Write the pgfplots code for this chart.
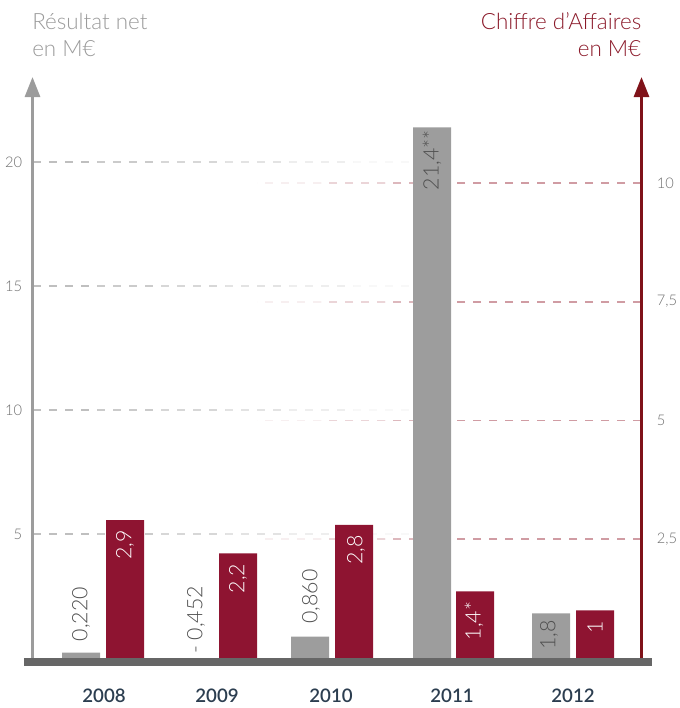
\documentclass[border=0pt]{standalone}
\usepackage{fontspec}
\setmainfont{Lato}
\IfFontExistsTF{Lato Light}{\newfontfamily\lite{Lato Light}}{\newfontfamily\lite{Lato}}
\IfFontExistsTF{Lato Semibold}{\newfontfamily\semi{Lato Semibold}}{\newfontfamily\semi{Lato}[UprightFont=* Bold]}
\usepackage{pgfplots}
\pgfplotsset{compat=1.18}
\usetikzlibrary{arrows.meta}

\definecolor{barGrey}{HTML}{9D9D9D}
\definecolor{barRed}{HTML}{8E1431}
\definecolor{axisGrey}{HTML}{9C9C9C}
\definecolor{axisRed}{HTML}{7F1219}
\definecolor{baseC}{HTML}{666666}
\definecolor{gridGrey}{HTML}{BCBCBC}
\definecolor{gridRed}{HTML}{D09CA3}
\definecolor{titleGrey}{HTML}{9A9A9A}
\definecolor{titleRed}{HTML}{8B1A2A}
\definecolor{tickC}{HTML}{6E6E6E}
\definecolor{yearC}{HTML}{2C3E50}
\definecolor{lblGrey}{HTML}{505050}

\pgfplotsset{
  base/.style={
    width=456.75pt, height=435.75pt, scale only axis,
    at={(0,0)}, anchor=south west,
    xmin=32.5, xmax=641.5, ymin=0,
    axis line style={draw=none},
    major tick length=0pt,
    /pgf/number format/assume math mode=true,
  },
}
\tikzset{
  lbl/.style={rotate=90, inner sep=0pt, font=\lite\fontsize{16}{16}\selectfont},
  gseg/.style={gridGrey, line width=1.4pt, dash pattern=on 6pt off 6pt},
  rseg/.style={gridRed, line width=1.4pt, dash pattern=on 6pt off 6pt},
}
% x runs in picture pixels (1px = 0.75pt); grid lines fade out in steps
\newcommand\greygrid[1]{%
  \draw[gseg, opacity=.95] (axis cs:33,#1) -- (axis cs:97,#1);
  \draw[gseg, opacity=.78] (axis cs:97,#1) -- (axis cs:161,#1);
  \draw[gseg, opacity=.6] (axis cs:161,#1) -- (axis cs:225,#1);
  \draw[gseg, opacity=.42] (axis cs:225,#1) -- (axis cs:289,#1);
  \draw[gseg, opacity=.25] (axis cs:289,#1) -- (axis cs:353,#1);
  \draw[gseg, opacity=.1] (axis cs:353,#1) -- (axis cs:417,#1);
}
\newcommand\redgrid[1]{%
  \draw[rseg] (axis cs:641,#1) -- (axis cs:449,#1);
  \draw[rseg, opacity=.72] (axis cs:449,#1) -- (axis cs:385,#1);
  \draw[rseg, opacity=.42] (axis cs:385,#1) -- (axis cs:321,#1);
  \draw[rseg, opacity=.16] (axis cs:321,#1) -- (axis cs:257,#1);
}

\begin{document}
\begin{tikzpicture}
\useasboundingbox (-24.375pt,-37.5pt) rectangle (485.625pt,493.5pt);

% left axis: Resultat net (24.8 px per unit)
\begin{axis}[base,
  ymax=23.43,
  ytick={5,10,15,20}, yticklabels={5,10,15,20}, ytick pos=left,
  yticklabel style={font=\lite\fontsize{11}{11}\selectfont, text=tickC, xshift=-4.2pt},
  xtick={104,217,331,452,573}, xticklabels={2008,2009,2010,2011,2012}, xtick pos=bottom,
  xticklabel style={anchor=center, yshift=-28.5pt, font=\semi\fontsize{14}{14}\selectfont, text=yearC},
]
\greygrid{5}
\greygrid{10}
\greygrid{15}
\greygrid{20}
% right scale 2.5, 5, 7.5, 10 in left units
\redgrid{4.788}
\redgrid{9.577}
\redgrid{14.365}
\redgrid{19.153}

\addplot[ybar, bar width=38, bar shift=0pt, fill=barGrey, draw=none]
  coordinates {(81,0.220) (196,-0.452) (310,0.860) (432,21.4) (551,1.8)};

\node[lbl, anchor=west, text=lblGrey] at (axis cs:81,0.67) {0,220};
\node[lbl, anchor=west, text=lblGrey] at (axis cs:196,0.16) {- 0,452};
\node[lbl, anchor=west, text=lblGrey] at (axis cs:311,1.38) {0,860};
\node[lbl, anchor=east, text=lblGrey] at (axis cs:432,21.3) {21,4**};
\node[lbl, anchor=east, text=lblGrey] at (axis cs:549,1.52) {1,8};
\end{axis}

% right axis: Chiffre d'Affaires (47.5 px per unit)
\begin{axis}[base,
  ymax=12.23, clip=false,
  xtick=\empty,
  ytick={2.5,5,7.5,10}, yticklabels={{2,5},5,{7,5},10}, ytick pos=right,
  yticklabel style={font=\lite\fontsize{11}{11}\selectfont, text=tickC, xshift=8pt},
]
\addplot[ybar, bar width=38, bar shift=0pt, fill=barRed, draw=none]
  coordinates {(125,2.9) (238,2.2) (354,2.8) (475,1.4) (595,1)};

\node[lbl, anchor=east, text=white] at (axis cs:125,2.69) {2,9};
\node[lbl, anchor=east, text=white] at (axis cs:238,1.99) {2,2};
\node[lbl, anchor=east, text=white] at (axis cs:356,2.59) {2,8};
\node[lbl, anchor=east, text=white] at (axis cs:474,1.19) {1,4*};
\node[lbl, anchor=east, text=white] at (axis cs:595,0.79) {1};

% baseline and axis lines
\draw[baseC, line width=6pt] (axis cs:24,-0.084) -- (axis cs:652,-0.084);
\draw[axisGrey, line width=2.25pt, -{Triangle[length=15pt,width=11.25pt]}] (axis cs:32.5,0) -- (axis cs:32.5,12.23);
\draw[axisRed, line width=2.25pt, -{Triangle[length=15pt,width=11.25pt]}] (axis cs:641.5,0) -- (axis cs:641.5,12.23);

% titles
\node[anchor=base west, inner sep=0pt, text=titleGrey, font=\lite\fontsize{16.8}{16.8}\selectfont] at (axis cs:32,13.22) {Résultat net};
\node[anchor=base west, inner sep=0pt, text=titleGrey, font=\lite\fontsize{16.8}{16.8}\selectfont] at (axis cs:32,12.67) {en M€};
\node[anchor=base east, inner sep=0pt, text=titleRed, font=\lite\fontsize{16.8}{16.8}\selectfont] at (axis cs:641.5,13.22) {Chiffre d’Affaires};
\node[anchor=base east, inner sep=0pt, text=titleRed, font=\lite\fontsize{16.8}{16.8}\selectfont] at (axis cs:641.5,12.67) {en M€};
\end{axis}
\end{tikzpicture}
\end{document}
